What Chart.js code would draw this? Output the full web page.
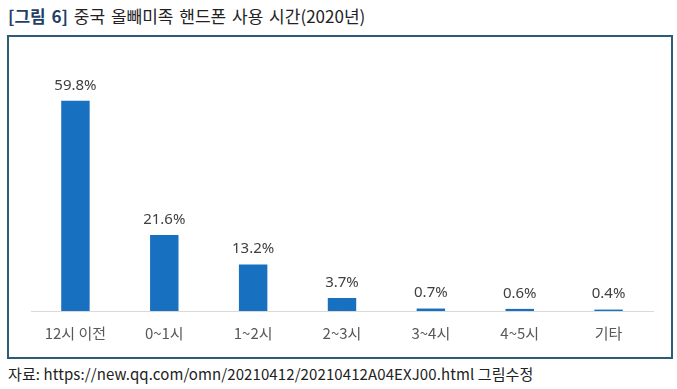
<!DOCTYPE html>
<html>
<head>
<meta charset="utf-8">
<script src="https://cdn.jsdelivr.net/npm/chart.js@4.4.0/dist/chart.umd.min.js"></script>
<style>
  body { margin: 0; background: #fff; font-family: "Noto Sans CJK KR", "Noto Sans", sans-serif; }
  #title { position: absolute; left: 8px; top: 3px; font-size: 17px; color: #222; word-spacing: 2px; }
  #title b { color: #1f3f66; }
  #box { position: absolute; left: 7px; top: 35px; width: 662px; height: 320px; border: 2px solid #2d5d76; }
  #wrap { position: absolute; left: 0; top: 0; width: 662px; height: 320px; }
  #src { position: absolute; left: 8px; top: 363px; font-size: 15px; color: #222; letter-spacing: 0.1px; }
</style>
</head>
<body>
<div id="title"><b>[그림 6]</b> 중국 올빼미족 핸드폰 사용 시간(2020년)</div>
<div id="box"><div id="wrap"><canvas id="usageChart"></canvas></div></div>
<div id="src">자료: https://new.qq.com/omn/20210412/20210412A04EXJ00.html 그림수정</div>
<script>
const categories = ['12시 이전', '0~1시', '1~2시', '2~3시', '3~4시', '4~5시', '기타'];
const shares = [59.8, 21.6, 13.2, 3.7, 0.7, 0.6, 0.4];

// values above bars
const valueLabels = {
    id: 'valueLabels',
    afterDatasetsDraw(chart) {
        const ctx = chart.ctx;
        ctx.save();
        ctx.font = '15px "Noto Sans", sans-serif';
        ctx.fillStyle = '#404040';
        ctx.textAlign = 'center';
        ctx.textBaseline = 'bottom';
        chart.getDatasetMeta(0).data.forEach((bar, i) => {
            ctx.fillText(shares[i].toFixed(1) + '%', bar.x, bar.y - 8);
        });
        ctx.restore();
    }
};

var ctx = document.getElementById('usageChart').getContext('2d');
var usageChart = new Chart(ctx, {
    type: 'bar',
    data: {
        labels: categories,
        datasets: [{
            data: shares,
            backgroundColor: '#1770c0',
            barPercentage: 0.32,
            categoryPercentage: 1
        }]
    },
    options: {
        responsive: true,
        maintainAspectRatio: false,
        animation: false,
        layout: { padding: { left: 22, right: 18, top: 28, bottom: 10 } },
        plugins: { legend: { display: false }, tooltip: { enabled: false } },
        scales: {
            x: {
                grid: { display: false },
                border: { color: '#d9d9d9', width: 1 },
                ticks: { color: '#595959', font: { size: 15, family: '"Noto Sans CJK KR", sans-serif' }, padding: 5 }
            },
            y: { display: false, min: 0, max: 70 }
        }
    },
    plugins: [valueLabels]
});
</script>
</body>
</html>
